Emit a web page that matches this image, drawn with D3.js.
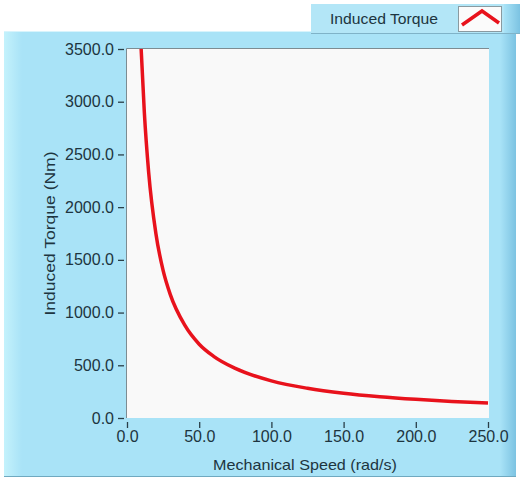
<!DOCTYPE html>
<html>
<head>
<meta charset="utf-8">
<script src="https://cdn.jsdelivr.net/npm/d3@7"></script>
<style>
  body { margin: 0; background: #fff; }
  text { font-family: 'Liberation Sans', Arial, sans-serif; fill: #1d3540; }
</style>
</head>
<body>
<div id="chart"></div>
<script>
// values
const speeds = [9.8, 12, 15, 20, 25, 30, 40, 50, 60, 75, 100, 125, 150, 175, 200, 225, 250];
const torques = [3500, 2900, 2330, 1750, 1400, 1170, 880, 700, 585, 470, 352, 282, 235, 202, 177, 157, 142];
const xTicks = [0, 50, 100, 150, 200, 250];
const yTicks = [0, 500, 1000, 1500, 2000, 2500, 3000, 3500];
const seriesName = 'Induced Torque';
const xTitle = 'Mechanical Speed (rad/s)';
const yTitle = 'Induced Torque (Nm)';

const W = 520, H = 481;
const plot = { left: 127, right: 488, top: 49, bottom: 418 };

const svg = d3.select('#chart').append('svg')
    .attr('width', W)
    .attr('height', H);

const defs = svg.append('defs');
const gl = defs.append('linearGradient').attr('id', 'leftEdge');
gl.append('stop').attr('offset', '0%').attr('stop-color', '#c4f2fc');
gl.append('stop').attr('offset', '100%').attr('stop-color', '#a9e3f7');
const gr = defs.append('linearGradient').attr('id', 'rightEdge');
gr.append('stop').attr('offset', '0%').attr('stop-color', '#a9e3f7');
gr.append('stop').attr('offset', '100%').attr('stop-color', '#7cc3e2');

// main panel
svg.append('rect').attr('x', 4).attr('y', 31).attr('width', 512).attr('height', 446)
    .attr('fill', '#a9e3f7');
svg.append('rect').attr('x', 4).attr('y', 31).attr('width', 18).attr('height', 446)
    .attr('fill', 'url(#leftEdge)');
svg.append('rect').attr('x', 500).attr('y', 31).attr('width', 16).attr('height', 446)
    .attr('fill', 'url(#rightEdge)');
svg.append('line').attr('x1', 4).attr('x2', 516).attr('y1', 31.5).attr('y2', 31.5)
    .attr('stroke', '#d8f4fc');
svg.append('line').attr('x1', 4).attr('x2', 516).attr('y1', 476.5).attr('y2', 476.5)
    .attr('stroke', '#6fa9c0');

// legend
svg.append('rect').attr('x', 311).attr('y', 4).attr('width', 209).attr('height', 29)
    .attr('fill', '#b3e6f7');
svg.append('rect').attr('x', 504).attr('y', 4).attr('width', 16).attr('height', 29)
    .attr('fill', 'url(#rightEdge)');
svg.append('line').attr('x1', 311).attr('x2', 520).attr('y1', 33.5).attr('y2', 33.5)
    .attr('stroke', '#7fb3c8');
svg.append('text').attr('x', 330).attr('y', 24).attr('font-size', 14.5)
    .attr('textLength', 108).attr('lengthAdjust', 'spacingAndGlyphs').text(seriesName);
svg.append('rect').attr('x', 458.5).attr('y', 6.5).attr('width', 43).attr('height', 25)
    .attr('fill', '#fbfbfb').attr('stroke', '#8a9aa0');
svg.append('path').attr('d', d3.line()([[462, 25], [482, 11], [499, 23]]))
    .attr('fill', 'none').attr('stroke', '#e8121c').attr('stroke-width', 3.5);

// plot area
svg.append('rect').attr('x', plot.left).attr('y', plot.top)
    .attr('width', plot.right - plot.left + 1).attr('height', plot.bottom - plot.top)
    .attr('fill', '#f9f9f9');
svg.append('path')
    .attr('d', `M${plot.left - 0.5},${plot.bottom}V${plot.top - 0.5}H${plot.right + 1}`)
    .attr('fill', 'none').attr('stroke', '#7d8c92');

const x = d3.scaleLinear().domain([0, 250]).range([plot.left, plot.right]);
const y = d3.scaleLinear().domain([0, 3500]).range([plot.bottom, plot.top]);

const yAxis = svg.append('g')
    .attr('transform', `translate(${plot.left - 3},0)`)
    .call(d3.axisLeft(y).tickValues(yTicks).tickFormat(d3.format('.1f'))
        .tickSize(6).tickPadding(4));
yAxis.select('.domain').remove();
yAxis.selectAll('.tick line').attr('stroke', '#2a3f48').attr('stroke-width', 1.3);
yAxis.selectAll('.tick text').attr('font-size', 16).attr('fill', '#1d3540')
    .attr('font-family', "'Liberation Sans', Arial, sans-serif");

const xAxis = svg.append('g')
    .attr('transform', `translate(0,${plot.bottom + 4})`)
    .call(d3.axisBottom(x).tickValues(xTicks).tickFormat(d3.format('.1f'))
        .tickSize(6).tickPadding(3));
xAxis.select('.domain').remove();
xAxis.selectAll('.tick line').attr('stroke', '#2a3f48').attr('stroke-width', 1.3);
xAxis.selectAll('.tick text').attr('font-size', 16).attr('fill', '#1d3540')
    .attr('font-family', "'Liberation Sans', Arial, sans-serif");

svg.append('text').attr('x', 305).attr('y', 470).attr('text-anchor', 'middle')
    .attr('font-size', 14.5).attr('textLength', 184).attr('lengthAdjust', 'spacingAndGlyphs')
    .text(xTitle);
svg.append('text')
    .attr('transform', `translate(55,${(plot.top + plot.bottom) / 2}) rotate(-90)`)
    .attr('text-anchor', 'middle').attr('font-size', 14.5)
    .attr('textLength', 164).attr('lengthAdjust', 'spacingAndGlyphs').text(yTitle);

// curve
const pts = speeds.map((s, i) => [s, torques[i]]);
svg.append('path')
    .datum(pts)
    .attr('d', d3.line().x(d => x(d[0])).y(d => y(d[1])).curve(d3.curveMonotoneX))
    .attr('fill', 'none')
    .attr('stroke', '#e8121c')
    .attr('stroke-width', 3.5);
</script>
</body>
</html>
